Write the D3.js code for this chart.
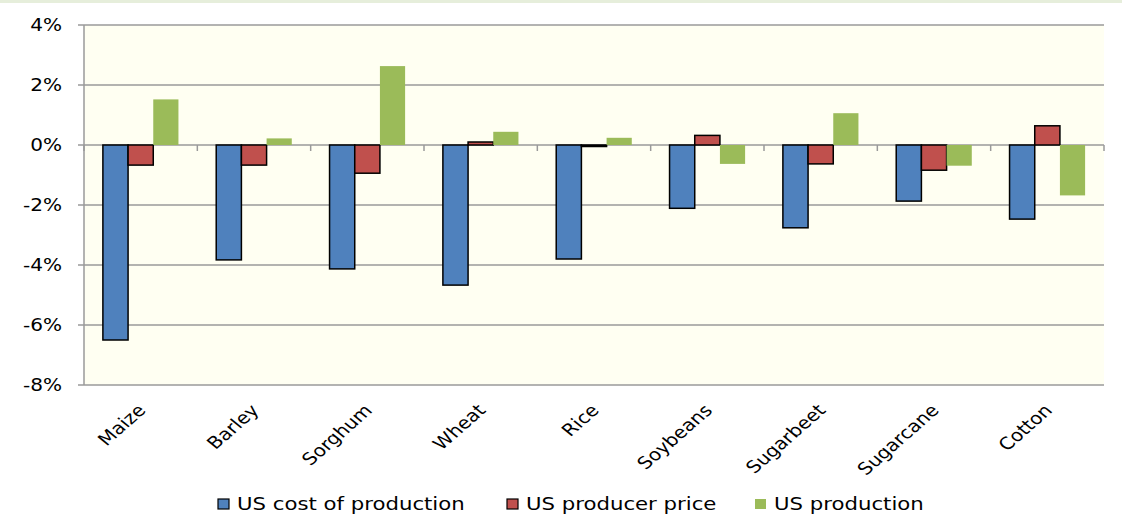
<!DOCTYPE html>
<html>
<head>
<meta charset="utf-8">
<style>
  body { margin: 0; background: #fff; }
  svg text { font-family: "DejaVu Sans", Verdana, sans-serif; fill: #000; }
</style>
</head>
<body>
<svg width="1122" height="524"></svg>
<script src="https://d3js.org/d3.v7.min.js"></script>
<script>
var categories = ["Maize", "Barley", "Sorghum", "Wheat", "Rice", "Soybeans", "Sugarbeet", "Sugarcane", "Cotton"];
var seriesNames = ["US cost of production", "US producer price", "US production"];
var costOfProduction = [-6.5, -3.83, -4.13, -4.67, -3.8, -2.11, -2.76, -1.87, -2.47];
var producerPrice = [-0.67, -0.67, -0.94, 0.1, -0.05, 0.32, -0.63, -0.84, 0.64];
var production = [1.52, 0.22, 2.63, 0.44, 0.24, -0.63, 1.06, -0.69, -1.68];
var yTicks = [4, 2, 0, -2, -4, -6, -8];

var colors = ["#4F81BD", "#C0504D", "#9BBB59"];
var strokes = ["#000", "#000", "none"];
var series = [costOfProduction, producerPrice, production];

var svg = d3.select("svg");
var plotLeft = 84, plotRight = 1104, plotTop = 25, plotBottom = 385;
var stretch = 1.18; // text in the picture is drawn wide

// pale strip left over from the cropped title
svg.append("rect").attr("x", 0).attr("y", 0).attr("width", 1122).attr("height", 3).attr("fill", "#E6EEDB");

var x = d3.scaleBand().domain(categories).range([plotLeft, plotRight]);
var y = d3.scaleLinear().domain([-8, 4]).range([plotBottom, plotTop]);

// gap width 150%: three bars take 3/4.5 of the band, centered
var barW = x.bandwidth() / 4.5;
var barOff = barW * 0.75;

svg.append("rect")
  .attr("x", plotLeft).attr("y", plotTop)
  .attr("width", plotRight - plotLeft).attr("height", plotBottom - plotTop)
  .attr("fill", "#FFFFF2");

// grid lines
svg.append("g").selectAll("line")
  .data(yTicks)
  .enter().append("line")
  .attr("x1", plotLeft - 6).attr("x2", plotRight)
  .attr("y1", function(d) { return y(d); })
  .attr("y2", function(d) { return y(d); })
  .attr("stroke", "#9a9a9a").attr("stroke-width", 1.5);

// y axis line
svg.append("line")
  .attr("x1", plotLeft).attr("x2", plotLeft)
  .attr("y1", plotTop).attr("y2", plotBottom)
  .attr("stroke", "#9a9a9a").attr("stroke-width", 1.5);

svg.append("g").selectAll("text")
  .data(yTicks)
  .enter().append("text")
  .attr("transform", function(d) { return "translate(62," + y(d) + ") scale(" + stretch + ",1)"; })
  .attr("dy", "0.35em")
  .attr("text-anchor", "end")
  .style("font-size", "17px")
  .text(function(d) { return d + "%"; });

// category ticks on zero line
svg.append("g").selectAll("line")
  .data(d3.range(categories.length + 1))
  .enter().append("line")
  .attr("x1", function(i) { return plotLeft + i * x.bandwidth(); })
  .attr("x2", function(i) { return plotLeft + i * x.bandwidth(); })
  .attr("y1", y(0)).attr("y2", y(0) + 6)
  .attr("stroke", "#9a9a9a").attr("stroke-width", 1.5);

// bars
series.forEach(function(vals, s) {
  svg.append("g").selectAll("rect")
    .data(vals)
    .enter().append("rect")
    .attr("x", function(d, i) { return x(categories[i]) + barOff + s * barW; })
    .attr("y", function(d) { return y(Math.max(0, d)); })
    .attr("width", barW)
    .attr("height", function(d) { return Math.abs(y(d) - y(0)); })
    .attr("fill", colors[s])
    .attr("stroke", strokes[s])
    .attr("stroke-width", 1.5);
});

// category labels
svg.append("g").selectAll("text")
  .data(categories)
  .enter().append("text")
  .attr("transform", function(d) {
    return "translate(" + (x(d) + x.bandwidth() / 2 - 4) + ",403) scale(" + stretch + ",1) rotate(-46)";
  })
  .attr("text-anchor", "end")
  .attr("dy", "0.7em")
  .style("font-size", "17px")
  .text(function(d) { return d; });

// legend
var legendX = [218, 507, 755];
var legend = svg.append("g").selectAll("g")
  .data(seriesNames)
  .enter().append("g")
  .attr("transform", function(d, i) { return "translate(" + legendX[i] + ",499)"; });

legend.append("rect")
  .attr("width", 11).attr("height", 10)
  .attr("fill", function(d, i) { return colors[i]; })
  .attr("stroke", function(d, i) { return i < 2 ? "#000" : "none"; })
  .attr("stroke-width", 1.2);

legend.append("text")
  .attr("transform", "translate(19,11) scale(" + stretch + ",1)")
  .style("font-size", "18px")
  .text(function(d) { return d; });
</script>
</body>
</html>
